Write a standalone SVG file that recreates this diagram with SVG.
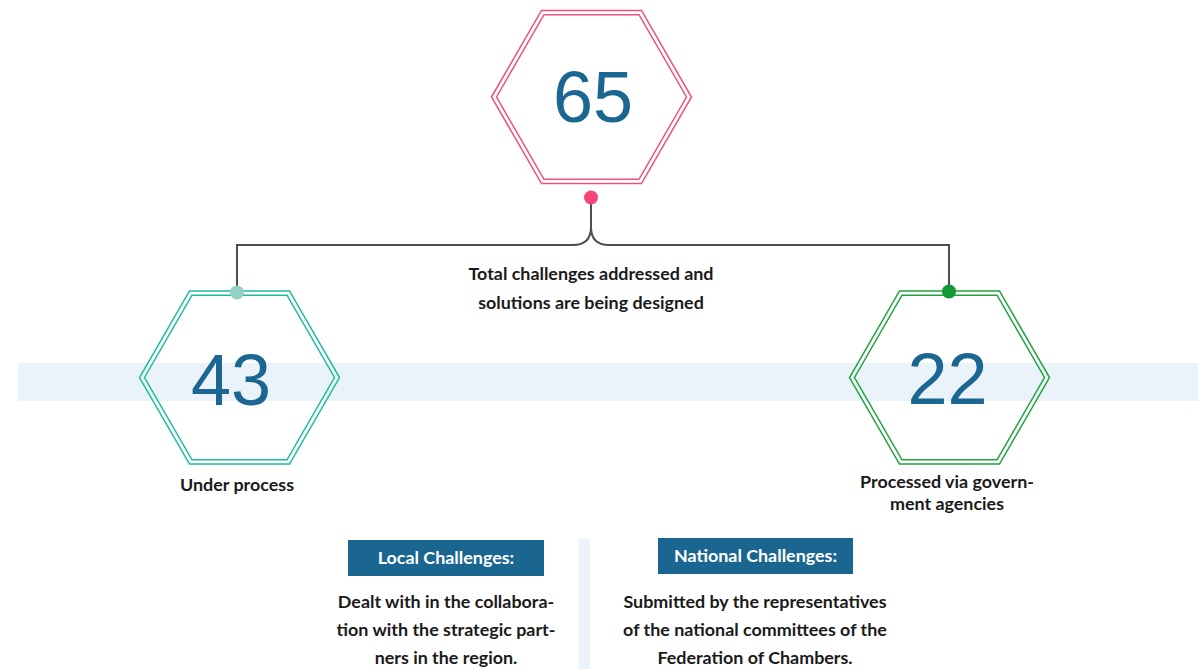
<svg xmlns="http://www.w3.org/2000/svg" width="1198" height="669" viewBox="0 0 1198 669">
<style>
.hex{fill:none;stroke-width:1.5}
.num{font-family:"Liberation Sans",Arial,sans-serif;font-size:72px;fill:#1b6792;text-anchor:middle}
.lbl{font-family:Lato,"Open Sans",sans-serif;font-weight:bold;font-size:17.9px;fill:#1a1a1a;text-anchor:middle}
.hd{font-family:Lato,"Open Sans",sans-serif;font-weight:bold;font-size:17.9px;fill:#ffffff;text-anchor:middle}
.conn{fill:none;stroke:#4d4d4d;stroke-width:2}
</style>
<rect width="1198" height="669" fill="#ffffff"/>
<rect x="18" y="363" width="1180" height="38" fill="#eaf3f9"/>
<rect x="579" y="539" width="11" height="130" fill="#eaf3f9"/>
<g id="connectors">
<path class="conn" d="M591,198 V227 Q591,245 573,245 H237 V292"/>
<path class="conn" d="M591,227 Q591,245 609,245 H949 V292"/>
</g>
<g id="node-65">
<polygon class="hex" stroke="#f0507c" points="491.5,97 541.5,10.4 641.5,10.4 691.5,97 641.5,183.6 541.5,183.6"/>
<polygon class="hex" stroke="#f0507c" points="496.5,97 544,14.7 639,14.7 686.5,97 639,179.3 544,179.3"/>
<text class="num" x="593" y="122">65</text>
<circle cx="591" cy="197.5" r="7" fill="#f4477a"/>
<text class="lbl" x="591" y="280">Total challenges addressed and</text>
<text class="lbl" x="591" y="309">solutions are being designed</text>
</g>
<g id="node-43">
<polygon class="hex" stroke="#1ebb9b" points="139.5,377.5 189.5,290.9 289.5,290.9 339.5,377.5 289.5,464.1 189.5,464.1"/>
<polygon class="hex" stroke="#1ebb9b" points="144.5,377.5 192,295.2 287,295.2 334.5,377.5 287,459.8 192,459.8"/>
<text class="num" x="231" y="405">43</text>
<circle cx="237" cy="292.5" r="7" fill="#93d1c2"/>
<text class="lbl" x="237" y="491">Under process</text>
</g>
<g id="node-22">
<polygon class="hex" stroke="#22a13d" points="849.5,377.5 899.5,290.9 999.5,290.9 1049.5,377.5 999.5,464.1 899.5,464.1"/>
<polygon class="hex" stroke="#22a13d" points="854.5,377.5 902,295.2 997,295.2 1044.5,377.5 997,459.8 902,459.8"/>
<text class="num" x="947.5" y="404">22</text>
<circle cx="949" cy="291.5" r="7" fill="#109a35"/>
<text class="lbl" x="947" y="488">Processed via govern-</text>
<text class="lbl" x="947" y="510">ment agencies</text>
</g>
<g id="local">
<rect x="348" y="540" width="196" height="36" fill="#1a6690"/>
<text class="hd" x="446" y="564">Local Challenges:</text>
<text class="lbl" x="446" y="608">Dealt with in the collabora-</text>
<text class="lbl" x="446" y="636">tion with the strategic part-</text>
<text class="lbl" x="446" y="664">ners in the region.</text>
</g>
<g id="national">
<rect x="658" y="538" width="195" height="36" fill="#1a6690"/>
<text class="hd" x="755.5" y="562">National Challenges:</text>
<text class="lbl" x="755" y="608">Submitted by the representatives</text>
<text class="lbl" x="755" y="636">of the national committees of the</text>
<text class="lbl" x="755" y="664">Federation of Chambers.</text>
</g>
</svg>
